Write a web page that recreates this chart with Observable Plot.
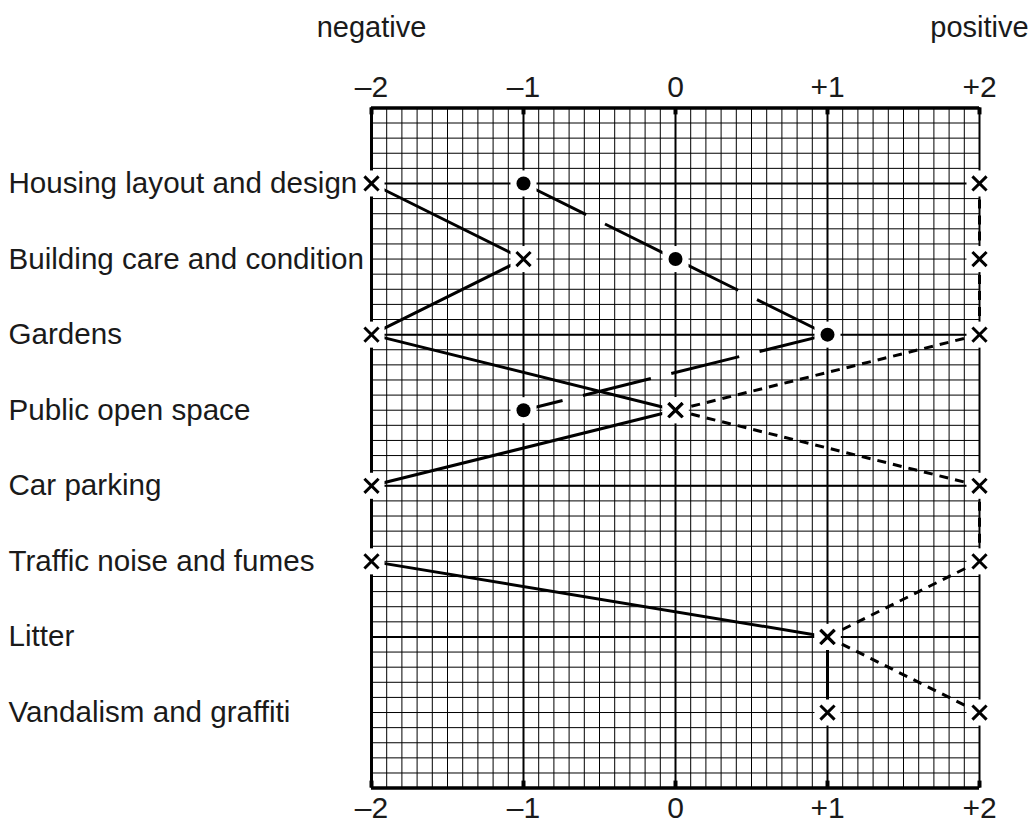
<!DOCTYPE html>
<html><head><meta charset="utf-8">
<script src="https://cdn.jsdelivr.net/npm/d3@7"></script>
<script src="https://cdn.jsdelivr.net/npm/@observablehq/plot@0.6"></script>
<style>
html,body{margin:0;padding:0;background:#fff;}
#chart svg{display:block;}
</style></head><body><div id="chart"></div>
<script>
const rows = ["Housing layout and design", "Building care and condition", "Gardens", "Public open space", "Car parking", "Traffic noise and fumes", "Litter", "Vandalism and graffiti"];
const solidSeries = [-2, -1, -2, 0, -2, -2, 1, 1];
const longDashSeries = [-1, 0, 1, -1];
const shortDashSeries = [2, 2, 2, 0, 2, 2, 1, 2];
const xTicks = [-2, -1, 0, 1, 2];
const xTickLabels = ["–2", "–1", "0", "+1", "+2"];
const endLabels = ["negative", "positive"];

const toPts = vals => vals.map((v, i) => ({x: v, y: i + 1, row: rows[i]}));
// split a series into separate two-point segments so the dash pattern restarts at each point
const toSegs = pts => pts.slice(1).flatMap((p, i) => [{...pts[i], seg: i}, {...p, seg: i}]);
const A = toPts(solidSeries), B = toPts(longDashSeries), C = toPts(shortDashSeries);
const yMax = rows.length + 1;
const minorX = d3.range(xTicks[0] * 10, xTicks[xTicks.length - 1] * 10 + 1).map(k => k / 10);
const minorY = d3.range(0, yMax * 5 + 1).map(k => k / 5);
const majorRows = rows.map((_, i) => i + 1).filter(i => i % 2 === 1);
const font = "'Liberation Sans', Arial, sans-serif";
const W = 1031, H = 824, mT = 107.4, mB = 36.4, mL = 371, mR = 52;
const frameH = H - mT - mB;
const ink = "#1a1a1a";

const chart = Plot.plot({
  width: W, height: H,
  marginLeft: mL, marginRight: mR, marginTop: mT, marginBottom: mB,
  style: {fontFamily: font, background: "#fff", color: "#000"},
  x: {domain: [xTicks[0], xTicks[xTicks.length - 1]], axis: null},
  y: {domain: [0, yMax], reverse: true, axis: null},
  marks: [
    Plot.ruleX(minorX, {stroke: "#000", strokeWidth: 1}),
    Plot.ruleY(minorY, {stroke: "#000", strokeWidth: 1}),
    Plot.ruleX(xTicks.slice(1, -1), {stroke: "#000", strokeWidth: 2}),
    Plot.ruleY(majorRows, {stroke: "#000", strokeWidth: 2}),
    Plot.ruleX([xTicks[0]], {stroke: "#000", strokeWidth: 3}),
    Plot.ruleX([xTicks[xTicks.length - 1]], {stroke: "#000", strokeWidth: 2}),
    Plot.ruleY([0, yMax], {stroke: "#000", strokeWidth: 3.5}),
    Plot.ruleX(xTicks, {stroke: "#000", strokeWidth: 4, insetBottom: frameH - 7}),
    Plot.ruleX(xTicks, {stroke: "#000", strokeWidth: 4, insetTop: frameH - 7}),
    Plot.line(A, {x: "x", y: "y", stroke: "#000", strokeWidth: 3, strokeLinecap: "butt"}),
    Plot.line(toSegs(B), {x: "x", y: "y", z: "seg", stroke: "#000", strokeWidth: 3, strokeLinecap: "butt", strokeDasharray: "70,21"}),
    Plot.line(toSegs(C), {x: "x", y: "y", z: "seg", stroke: "#000", strokeWidth: 3, strokeLinecap: "butt", strokeDasharray: "9,7"}),
    Plot.dot([...A, ...B, ...C], {x: "x", y: "y", symbol: "square", r: 14.7, fill: "#fff", stroke: "none"}),
    Plot.dot(A, {x: "x", y: "y", symbol: "times", r: 6.5, stroke: "#000", strokeWidth: 3}),
    Plot.dot(C, {x: "x", y: "y", symbol: "times", r: 6.5, stroke: "#000", strokeWidth: 3}),
    Plot.dot(B, {x: "x", y: "y", symbol: "circle", r: 7, fill: "#000", stroke: "none"}),
    Plot.text(rows, {y: (d, i) => i + 1, text: d => d, frameAnchor: "left", dx: 8 - mL, textAnchor: "start", fontSize: 29.6, fill: ink}),
    Plot.text(xTicks, {x: d => d, text: (d, i) => xTickLabels[i], frameAnchor: "top", lineAnchor: "bottom", dy: -11.4, fontSize: 30, fill: ink}),
    Plot.text(xTicks, {x: d => d, text: (d, i) => xTickLabels[i], frameAnchor: "bottom", lineAnchor: "bottom", dy: 817 - (H - mB), fontSize: 30, fill: ink}),
    Plot.text(endLabels, {x: (d, i) => i === 0 ? xTicks[0] : xTicks[xTicks.length - 1], text: d => d, frameAnchor: "top", lineAnchor: "bottom", dy: 36 - mT, fontSize: 29, fill: ink})
  ]
});
document.getElementById("chart").append(chart);
</script></body></html>
